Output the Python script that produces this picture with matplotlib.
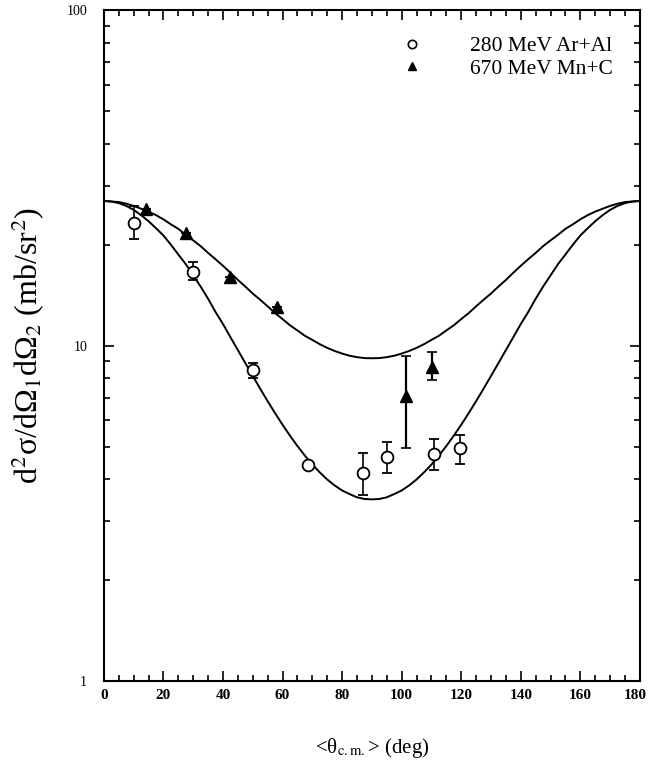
import matplotlib
matplotlib.use("Agg")
import matplotlib.pyplot as plt
import matplotlib.transforms as mtransforms
from matplotlib.ticker import MultipleLocator, LogLocator, NullFormatter, FixedLocator, FixedFormatter
import numpy as np

plt.rcParams['font.family'] = ['Liberation Serif', 'DejaVu Serif']
plt.rcParams['mathtext.fontset'] = 'stix'

# 280 MeV Ar+Al
ar_theta = [10, 30, 50, 68.5, 87, 95, 111, 119.5]
ar_val = [23.2, 16.6, 8.47, 4.42, 4.18, 4.65, 4.75, 4.94]
ar_lo = [20.8, 15.7, 8.01, 4.42, 3.59, 4.17, 4.25, 4.45]
ar_hi = [26.0, 17.7, 8.9, 4.42, 4.78, 5.15, 5.28, 5.42]

# 670 MeV Mn+C
mn_theta = [14, 27.5, 42.3, 58.3, 101.6, 110.2]
mn_val = [25.5, 21.6, 16.0, 13.0, 7.06, 8.62]
mn_lo = [25.5, 21.6, 16.0, 13.0, 4.96, 7.91]
mn_hi = [25.5, 21.6, 16.0, 13.0, 9.34, 9.55]

# curves every 2.5 deg
curve_theta = [i * 2.5 for i in range(73)]
upper_curve = [27.0, 26.9, 26.8, 26.5, 26.1, 25.6, 25.1, 24.5, 23.8, 23.0,
               22.3, 21.4, 20.6, 19.8, 18.9, 18.1, 17.3, 16.5, 15.7, 15.0,
               14.3, 13.7, 13.1, 12.5, 12.0, 11.5, 11.1, 10.7, 10.4, 10.1,
               9.85, 9.64, 9.47, 9.33, 9.24, 9.18, 9.17,
               9.18, 9.24, 9.33, 9.47, 9.64, 9.85, 10.1, 10.4, 10.7, 11.1,
               11.5, 12.0, 12.5, 13.1, 13.7, 14.3, 15.0, 15.7, 16.5, 17.3,
               18.1, 18.9, 19.8, 20.6, 21.4, 22.3, 23.0, 23.8, 24.5, 25.1,
               25.6, 26.1, 26.5, 26.8, 26.9, 27.0]
lower_curve = [27.0, 26.9, 26.6, 26.1, 25.4, 24.5, 23.5, 22.4, 21.3, 20.0,
               18.7, 17.5, 16.2, 15.0, 13.8, 12.6, 11.6, 10.6, 9.70, 8.87,
               8.12, 7.44, 6.83, 6.29, 5.81, 5.39, 5.02, 4.70, 4.42, 4.19,
               3.99, 3.83, 3.70, 3.61, 3.53, 3.49, 3.48,
               3.49, 3.53, 3.61, 3.70, 3.83, 3.99, 4.19, 4.42, 4.70, 5.02,
               5.39, 5.81, 6.29, 6.83, 7.44, 8.12, 8.87, 9.70, 10.6, 11.6,
               12.6, 13.8, 15.0, 16.2, 17.5, 18.7, 20.0, 21.3, 22.4, 23.5,
               24.5, 25.4, 26.1, 26.6, 26.9, 27.0]

x_ticks = [0, 20, 40, 60, 80, 100, 120, 140, 160, 180]

fig = plt.figure(figsize=(6.49, 7.64), dpi=100)
ax = fig.add_axes([0.160, 0.1086, 0.826, 0.878])

ax.plot(curve_theta, upper_curve, color='black', lw=1.4)
ax.plot(curve_theta, lower_curve, color='black', lw=1.4)

ar_v = np.array(ar_val)
ax.errorbar(ar_theta, ar_val, yerr=[ar_v - np.array(ar_lo), np.array(ar_hi) - ar_v],
            fmt='o', mfc='white', mec='black', mew=1.3, ms=8.5, ecolor='black',
            elinewidth=1.2, capsize=3.5, capthick=1.2, zorder=3)
mn_v = np.array(mn_val)
ax.errorbar(mn_theta, mn_val, yerr=[mn_v - np.array(mn_lo), np.array(mn_hi) - mn_v],
            fmt='^', color='black', ms=8.5, ecolor='black',
            elinewidth=1.6, capsize=3.5, capthick=1.2, zorder=3)

ax.set_yscale('log')
ax.set_xlim(0, 180)
ax.set_ylim(1, 100)
ax.xaxis.set_major_locator(FixedLocator(x_ticks))
ax.xaxis.set_major_formatter(FixedFormatter([str(t) for t in x_ticks]))
ax.xaxis.set_minor_locator(MultipleLocator(5))
ax.yaxis.set_major_locator(FixedLocator([1, 10, 100]))
ax.yaxis.set_major_formatter(FixedFormatter(['1', '10', '100']))
ax.yaxis.set_minor_locator(LogLocator(base=10, subs=np.arange(2, 10)))
ax.yaxis.set_minor_formatter(NullFormatter())

ax.tick_params(which='both', direction='in', top=True, right=True, width=1.2)
ax.tick_params(which='major', length=7)
ax.tick_params(which='minor', length=4)
ax.tick_params(axis='x', labelsize=11, pad=6)
ax.tick_params(axis='y', labelsize=10, pad=12)
for s in ax.spines.values():
    s.set_linewidth(1.5)

ax.set_xlabel('<θ$_{\\rm c.m.}$> (deg)', fontsize=15, labelpad=24)
ax.set_ylabel('d$^2$σ/dΩ$_1$dΩ$_2$ (mb/sr$^2$)', fontsize=23, labelpad=14)

# legend
ax.plot([], [], 'o', mfc='white', mec='black', mew=1.2, ms=6, label='280 MeV Ar+Al')
ax.plot([], [], '^', color='black', ms=6, label='670 MeV Mn+C')
handles, labels = ax.get_legend_handles_labels()
ax.legend(handles[-2:], labels[-2:], loc='upper right', frameon=False, fontsize=15.5,
          handletextpad=2.2, labelspacing=0.12, bbox_to_anchor=(0.966, 0.974),
          borderaxespad=0, handlelength=1.0)

fig.canvas.draw()
for tick in ax.xaxis.get_major_ticks():
    tick.label1.set_fontweight('bold')
    if tick.label1.get_text() == '180':
        # keep the "180" label inside the figure
        tick.label1.set_horizontalalignment('right')
        tick.label1.set_transform(tick.label1.get_transform() +
                                  mtransforms.ScaledTranslation(7 / 100, 0, fig.dpi_scale_trans))

fig.savefig('out.png', dpi=100)
